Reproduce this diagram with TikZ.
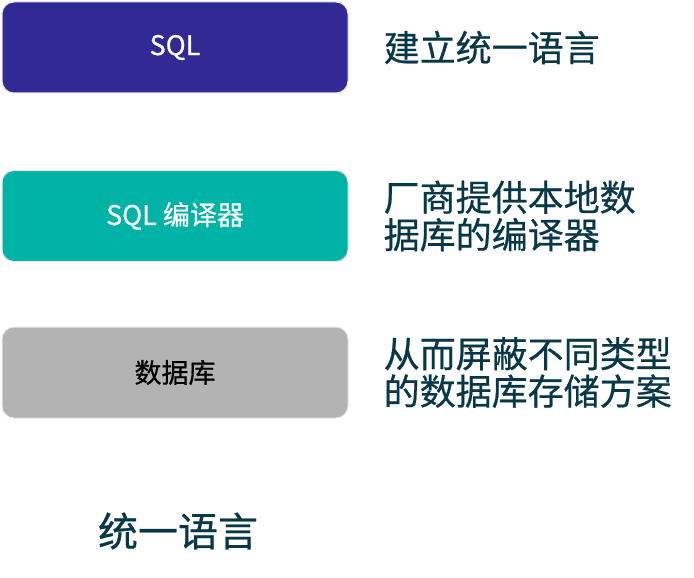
\documentclass[tikz,border=0pt]{standalone}
\usepackage{fontspec}
\setmainfont{Noto Sans CJK SC}
\newfontfamily\moyen[FakeBold=0.6]{Noto Sans CJK SC}
\usetikzlibrary{positioning}
\definecolor{sqlviolet}{RGB}{49,42,148}
\definecolor{sqlvert}{RGB}{0,179,167}
\definecolor{bdgris}{RGB}{179,179,179}
\definecolor{bordure}{RGB}{232,232,232}
\definecolor{texte}{RGB}{8,56,72}

\begin{document}
\begin{tikzpicture}[x = 1pt, y = -1pt,
    boite/.style = {draw = bordure, line width = 1pt, rounded corners = 12pt,
        minimum width = 346pt, minimum height = 91pt, inner sep = 0pt,
        font = \moyen\fontsize{27}{30}\selectfont},
    note/.style = {anchor = west, align = left, inner sep = 0pt, text = texte,
        font = \moyen\fontsize{36}{37.5}\selectfont}]
\useasboundingbox (0, 0) rectangle (694, 578);

% Les trois boîtes, de haut en bas
\foreach \y/\nom/\fond/\ecrit/\txt in {47.5/sql/sqlviolet/white/SQL,
        216/comp/sqlvert/white/SQL 编译器, 372.5/bd/bdgris/black/数据库}{
    \node[boite, fill = \fond, text = \ecrit] (\nom) at (175, \y) {\txt};
}

% Les explications à droite de chaque boîte
\node[note, right = 35pt of sql] (n1) {建立统一语言};
\node[note, right = 35pt of comp] (n2) {厂商提供本地数\\据库的编译器};
\node[note, right = 35pt of bd] (n3) {从而屏蔽不同类型\\的数据库存储方案};

% Le titre en bas
\node[text = texte, inner sep = 0pt, font = \moyen\fontsize{40}{42}\selectfont]
    (titre) at (178, 531) {统一语言};
\end{tikzpicture}
\end{document}
